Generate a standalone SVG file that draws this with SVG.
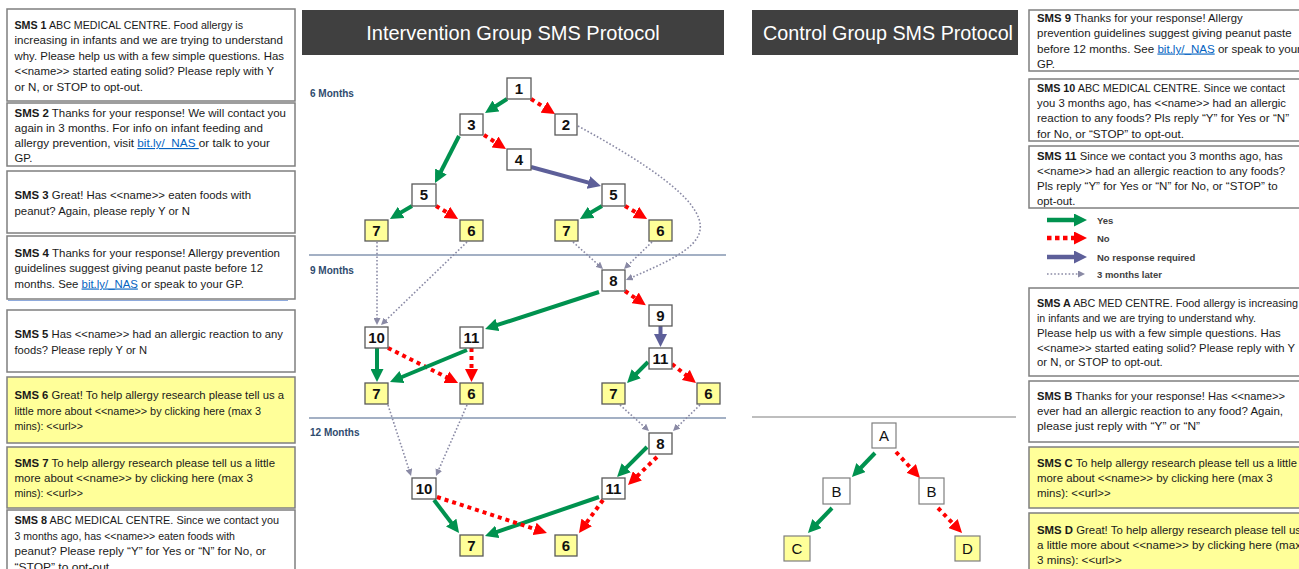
<svg xmlns="http://www.w3.org/2000/svg" width="1299" height="569" viewBox="0 0 1299 569">
  <style>
    .sms { fill: #ffffff; stroke: #7f7f7f; stroke-width: 1.5; }
    .smsy { fill: #ffff99; stroke: #7f7f7f; stroke-width: 1.5; }
    .t { font-family: "Liberation Sans", Arial, sans-serif; font-size: 11.3px; fill: #1a1a1a; }
    .b { font-weight: bold; }
    .lnk { fill: #0563c1; text-decoration: underline; }
    .hdr { fill: #404040; }
    .ht { font-family: "Liberation Sans", Arial, sans-serif; font-size: 20px; fill: #ffffff; text-anchor: middle; }
    .mo { font-family: "Liberation Sans", Arial, sans-serif; font-size: 10px; font-weight: bold; fill: #2f4b6e; }
    .sep { stroke: #8496b0; stroke-width: 1.3; }
    .nd { fill: #ffffff; stroke: #595959; stroke-width: 1.3; }
    .ny { fill: #ffff99; stroke: #595959; stroke-width: 1.3; }
    .nt { font-family: "Liberation Sans", Arial, sans-serif; font-size: 15px; font-weight: bold; fill: #111111; text-anchor: middle; }
    .ct { font-family: "Liberation Sans", Arial, sans-serif; font-size: 15px; fill: #111111; text-anchor: middle; }
    .cn { fill: #ffffff; stroke: #7f7f7f; stroke-width: 1.2; }
    .cy { fill: #ffff99; stroke: #7f7f7f; stroke-width: 1.2; }
    .yes { stroke: #00924f; stroke-width: 4; fill: none; marker-end: url(#hYes); }
    .no { stroke: #ff0000; stroke-width: 4; stroke-dasharray: 4 4; fill: none; marker-end: url(#hNo); }
    .nr { stroke: #5d5f99; stroke-width: 4; fill: none; marker-end: url(#hNr); }
    .lt { stroke: #8a8aa5; stroke-width: 1.6; stroke-dasharray: 1.6 2; fill: none; marker-end: url(#hLt); }
    .lg { font-family: "Liberation Sans", Arial, sans-serif; font-size: 9.5px; font-weight: bold; fill: #404040; }
  </style>
  <defs>
    <marker id="hYes" markerUnits="userSpaceOnUse" markerWidth="13" markerHeight="13" refX="4" refY="6.5" orient="auto">
      <path d="M0,0 L13,6.5 L0,13 z" fill="#00924f"/>
    </marker>
    <marker id="hNo" markerUnits="userSpaceOnUse" markerWidth="13" markerHeight="13" refX="4" refY="6.5" orient="auto">
      <path d="M0,0 L13,6.5 L0,13 z" fill="#ff0000"/>
    </marker>
    <marker id="hNr" markerUnits="userSpaceOnUse" markerWidth="13" markerHeight="13" refX="4" refY="6.5" orient="auto">
      <path d="M0,0 L13,6.5 L0,13 z" fill="#5d5f99"/>
    </marker>
    <marker id="hLt" markerUnits="userSpaceOnUse" markerWidth="7" markerHeight="7" refX="2" refY="3.5" orient="auto">
      <path d="M0,0 L7,3.5 L0,7 z" fill="#8a8aa5"/>
    </marker>
  </defs>

  <rect width="1299" height="569" fill="#ffffff"/>

  <!-- Intervention group messages (left column) -->
  <g id="sms-1">
    <rect class="sms" x="7" y="9" width="288" height="92"/>
    <text class="t" x="14.5" y="28.5" textLength="228.5" lengthAdjust="spacingAndGlyphs"><tspan class="b">SMS 1</tspan> ABC MEDICAL CENTRE. Food allergy is</text>
    <text class="t" x="14.5" y="44" textLength="268.5" lengthAdjust="spacingAndGlyphs">increasing in infants and we are trying to understand</text>
    <text class="t" x="14.5" y="59.5" textLength="269.5" lengthAdjust="spacingAndGlyphs">why. Please help us with a few simple questions. Has</text>
    <text class="t" x="14.5" y="75" textLength="259.5" lengthAdjust="spacingAndGlyphs">&lt;&lt;name&gt;&gt; started eating solid? Please reply with Y</text>
    <text class="t" x="14.5" y="90.5" textLength="128.5" lengthAdjust="spacingAndGlyphs">or N, or STOP to opt-out.</text>
  </g>
  <g id="sms-2">
    <rect class="sms" x="7" y="103" width="288" height="63"/>
    <text class="t" x="14.5" y="117" textLength="271.5" lengthAdjust="spacingAndGlyphs"><tspan class="b">SMS 2</tspan> Thanks for your response! We will contact you</text>
    <text class="t" x="14.5" y="132" textLength="248.5" lengthAdjust="spacingAndGlyphs">again in 3 months. For info on infant feeding and</text>
    <text class="t" x="14.5" y="147" textLength="255.5" lengthAdjust="spacingAndGlyphs">allergy prevention, visit <tspan class="lnk">bit.ly/_NAS </tspan>or talk to your</text>
    <text class="t" x="14.5" y="161.5">GP.</text>
  </g>
  <g id="sms-3">
    <rect class="sms" x="7" y="171" width="288" height="62"/>
    <text class="t" x="14.5" y="198.5" textLength="236.5" lengthAdjust="spacingAndGlyphs"><tspan class="b">SMS 3</tspan> Great! Has &lt;&lt;name&gt;&gt; eaten foods with</text>
    <text class="t" x="14.5" y="214.5" textLength="175.5" lengthAdjust="spacingAndGlyphs">peanut? Again, please reply Y or N</text>
  </g>
  <g id="sms-4">
    <rect class="sms" x="7" y="236" width="288" height="63"/>
    <line x1="8" y1="300.5" x2="288" y2="300.5" stroke="#8faadc" stroke-width="1.2"/>
    <text class="t" x="14.5" y="257" textLength="265.5" lengthAdjust="spacingAndGlyphs"><tspan class="b">SMS 4</tspan> Thanks for your response! Allergy prevention</text>
    <text class="t" x="14.5" y="272" textLength="248.5" lengthAdjust="spacingAndGlyphs">guidelines suggest giving peanut paste before 12</text>
    <text class="t" x="14.5" y="287.5" textLength="229.5" lengthAdjust="spacingAndGlyphs">months. See <tspan class="lnk">bit.ly/_NAS</tspan> or speak to your GP.</text>
  </g>
  <g id="sms-5">
    <rect class="sms" x="7" y="310" width="288" height="62"/>
    <text class="t" x="14.5" y="337.5" textLength="268.5" lengthAdjust="spacingAndGlyphs"><tspan class="b">SMS 5</tspan> Has &lt;&lt;name&gt;&gt; had an allergic reaction to any</text>
    <text class="t" x="14.5" y="353.5" textLength="132.5" lengthAdjust="spacingAndGlyphs">foods? Please reply Y or N</text>
  </g>
  <g id="sms-6">
    <rect class="smsy" x="7" y="377" width="288" height="66"/>
    <text class="t" x="14.5" y="399" textLength="269.5" lengthAdjust="spacingAndGlyphs"><tspan class="b">SMS 6</tspan> Great! To help allergy research please tell us a</text>
    <text class="t" x="14.5" y="415" textLength="246.5" lengthAdjust="spacingAndGlyphs">little more about &lt;&lt;name&gt;&gt; by clicking here (max 3</text>
    <text class="t" x="14.5" y="430" textLength="68.5" lengthAdjust="spacingAndGlyphs">mins): &lt;&lt;url&gt;&gt;</text>
  </g>
  <g id="sms-7">
    <rect class="smsy" x="7" y="447" width="288" height="61"/>
    <text class="t" x="14.5" y="467" textLength="260.5" lengthAdjust="spacingAndGlyphs"><tspan class="b">SMS 7</tspan> To help allergy research please tell us a little</text>
    <text class="t" x="14.5" y="482" textLength="238.5" lengthAdjust="spacingAndGlyphs">more about &lt;&lt;name&gt;&gt; by clicking here (max 3</text>
    <text class="t" x="14.5" y="497" textLength="68.5" lengthAdjust="spacingAndGlyphs">mins): &lt;&lt;url&gt;&gt;</text>
  </g>
  <g id="sms-8">
    <rect class="sms" x="7" y="510" width="288" height="70"/>
    <text class="t" x="14.5" y="524" textLength="264.5" lengthAdjust="spacingAndGlyphs"><tspan class="b">SMS 8</tspan> ABC MEDICAL CENTRE. Since we contact you</text>
    <text class="t" x="14.5" y="539.5" textLength="220.5" lengthAdjust="spacingAndGlyphs">3 months ago, has &lt;&lt;name&gt;&gt; eaten foods with</text>
    <text class="t" x="14.5" y="555" textLength="251.5" lengthAdjust="spacingAndGlyphs">peanut? Please reply “Y” for Yes or “N” for No, or</text>
    <text class="t" x="14.5" y="570.5" textLength="98" lengthAdjust="spacingAndGlyphs">“STOP” to opt-out.</text>
  </g>

  <!-- Headers -->
  <g id="hdr-intervention">
    <rect class="hdr" x="302" y="10" width="422" height="45"/>
    <text class="ht" x="513" y="40">Intervention Group SMS Protocol</text>
  </g>
  <g id="hdr-control">
    <rect class="hdr" x="752" y="10" width="266" height="45"/>
    <text class="ht" x="888" y="40" textLength="250" lengthAdjust="spacingAndGlyphs">Control Group SMS Protocol</text>
  </g>

  <!-- Time bands -->
  <g id="bands">
    <line class="sep" x1="309" y1="255" x2="726" y2="255"/>
    <line class="sep" x1="309" y1="418" x2="726" y2="418"/>
    <line x1="752" y1="417" x2="1016" y2="417" stroke="#7f7f7f" stroke-width="1.2"/>
    <text class="mo" x="310" y="96.5">6 Months</text>
    <text class="mo" x="310" y="273.5">9 Months</text>
    <text class="mo" x="310" y="435.5">12 Months</text>
  </g>

  <!-- Connectors -->
  <g id="connectors">
    <!-- 6 months -->
    <line class="yes" x1="507" y1="99" x2="492.6" y2="108.2"/>
    <line class="no" x1="531" y1="99" x2="547.4" y2="109.2"/>
    <line class="yes" x1="459" y1="136" x2="439.1" y2="175"/>
    <line class="no" x1="484" y1="135" x2="498.4" y2="144.2"/>
    <line class="nr" x1="531" y1="167" x2="592.3" y2="183.6"/>
    <line class="yes" x1="412" y1="206" x2="397.7" y2="214.4"/>
    <line class="no" x1="436" y1="206" x2="450.3" y2="214.4"/>
    <line class="yes" x1="602" y1="206" x2="587.7" y2="214.4"/>
    <line class="no" x1="625" y1="206" x2="639.3" y2="214.4"/>
    <!-- 3 months later, into 9 months -->
    <path class="lt" d="M578,126 C640,160 705,200 700,230 C697,250 662,264 630.5,278"/>
    <line class="lt" x1="377" y1="242" x2="377" y2="320"/>
    <line class="lt" x1="467" y1="242" x2="384.6" y2="321.5"/>
    <line class="lt" x1="573" y1="242" x2="599.3" y2="265.7"/>
    <line class="lt" x1="652" y1="242" x2="627.6" y2="265.5"/>
    <!-- 9 months -->
    <line class="yes" x1="599" y1="292" x2="493.6" y2="326.2"/>
    <line class="no" x1="625" y1="291" x2="638.4" y2="300.2"/>
    <line class="nr" x1="660.5" y1="326" x2="660.5" y2="338"/>
    <line class="yes" x1="377" y1="348" x2="377" y2="373"/>
    <line class="no" x1="388" y1="348" x2="450" y2="379"/>
    <line class="yes" x1="467" y1="350" x2="398.3" y2="378.5"/>
    <line class="no" x1="471.5" y1="348" x2="471.5" y2="373"/>
    <line class="yes" x1="648" y1="362" x2="633.4" y2="376.6"/>
    <line class="no" x1="672" y1="364" x2="688.9" y2="377.4"/>
    <!-- 3 months later, into 12 months -->
    <line class="lt" x1="388" y1="405" x2="409.5" y2="471.2"/>
    <line class="lt" x1="467" y1="405" x2="438" y2="471.4"/>
    <line class="lt" x1="620" y1="405" x2="645.3" y2="427.7"/>
    <line class="lt" x1="700" y1="405" x2="676.6" y2="427.5"/>
    <!-- 12 months -->
    <line class="yes" x1="647" y1="447" x2="623.4" y2="470.6"/>
    <line class="no" x1="657" y1="457" x2="634.5" y2="478.7"/>
    <line class="yes" x1="599" y1="497" x2="493.5" y2="533.1"/>
    <line class="no" x1="603" y1="500" x2="584.3" y2="525.7"/>
    <line class="yes" x1="434" y1="500" x2="453.6" y2="525.8"/>
    <line class="no" x1="437" y1="497" x2="538.4" y2="530.2"/>
    <!-- control group -->
    <line class="yes" x1="875" y1="453" x2="858.2" y2="470.5"/>
    <line class="no" x1="896" y1="452" x2="913.9" y2="471.4"/>
    <line class="yes" x1="832" y1="508" x2="814.2" y2="526.5"/>
    <line class="no" x1="938" y1="508" x2="955.8" y2="526.5"/>
  </g>

  <!-- Intervention nodes -->
  <g id="n1"><rect class="nd" x="507" y="78" width="24" height="21"/><text class="nt" x="519" y="93.8">1</text></g>
  <g id="n3"><rect class="nd" x="460" y="114" width="23" height="21"/><text class="nt" x="471.5" y="129.8">3</text></g>
  <g id="n2"><rect class="nd" x="555" y="114" width="22" height="21"/><text class="nt" x="566" y="129.8">2</text></g>
  <g id="n4"><rect class="nd" x="507" y="149" width="24" height="21"/><text class="nt" x="519" y="164.8">4</text></g>
  <g id="n5a"><rect class="nd" x="412" y="184" width="24" height="22"/><text class="nt" x="424" y="200.3">5</text></g>
  <g id="n5b"><rect class="nd" x="602" y="184" width="23" height="22"/><text class="nt" x="613.5" y="200.3">5</text></g>
  <g id="n7a"><rect class="ny" x="365" y="220" width="23" height="21"/><text class="nt" x="376.5" y="235.8">7</text></g>
  <g id="n6a"><rect class="ny" x="460" y="220" width="23" height="21"/><text class="nt" x="471.5" y="235.8">6</text></g>
  <g id="n7b"><rect class="ny" x="555" y="220" width="23" height="21"/><text class="nt" x="566.5" y="235.8">7</text></g>
  <g id="n6b"><rect class="ny" x="649" y="220" width="23" height="21"/><text class="nt" x="660.5" y="235.8">6</text></g>

  <g id="n8a"><rect class="nd" x="602" y="270" width="23" height="21"/><text class="nt" x="613.5" y="285.8">8</text></g>
  <g id="n9"><rect class="nd" x="649" y="305" width="23" height="21"/><text class="nt" x="660.5" y="320.8">9</text></g>
  <g id="n11b"><rect class="nd" x="649" y="348" width="23" height="21"/><text class="nt" x="660.5" y="363.8">11</text></g>
  <g id="n10a"><rect class="nd" x="365" y="327" width="23" height="21"/><text class="nt" x="376.5" y="342.8">10</text></g>
  <g id="n11a"><rect class="nd" x="460" y="327" width="23" height="21"/><text class="nt" x="471.5" y="342.8">11</text></g>
  <g id="n7c"><rect class="ny" x="365" y="383" width="23" height="21"/><text class="nt" x="376.5" y="398.8">7</text></g>
  <g id="n6c"><rect class="ny" x="460" y="383" width="23" height="21"/><text class="nt" x="471.5" y="398.8">6</text></g>
  <g id="n7d"><rect class="ny" x="602" y="383" width="23" height="21"/><text class="nt" x="613.5" y="398.8">7</text></g>
  <g id="n6d"><rect class="ny" x="697" y="383" width="23" height="21"/><text class="nt" x="708.5" y="398.8">6</text></g>

  <g id="n8b"><rect class="nd" x="649" y="433" width="23" height="21"/><text class="nt" x="660.5" y="448.8">8</text></g>
  <g id="n11c"><rect class="nd" x="602" y="478" width="23" height="21"/><text class="nt" x="613.5" y="493.8">11</text></g>
  <g id="n10b"><rect class="nd" x="412" y="478" width="24" height="21"/><text class="nt" x="424" y="493.8">10</text></g>
  <g id="n7e"><rect class="ny" x="460" y="535" width="23" height="21"/><text class="nt" x="471.5" y="550.8">7</text></g>
  <g id="n6e"><rect class="ny" x="555" y="535" width="22" height="21"/><text class="nt" x="566" y="550.8">6</text></g>

  <!-- Control nodes -->
  <g id="cA"><rect class="cn" x="872" y="423" width="24" height="25"/><text class="ct" x="884" y="440.8">A</text></g>
  <g id="cB1"><rect class="cn" x="823" y="478" width="27" height="26"/><text class="ct" x="836.5" y="496.5">B</text></g>
  <g id="cB2"><rect class="cn" x="919" y="478" width="25" height="26"/><text class="ct" x="931.5" y="496.5">B</text></g>
  <g id="cC"><rect class="cy" x="784" y="536" width="26" height="25"/><text class="ct" x="797" y="554">C</text></g>
  <g id="cD"><rect class="cy" x="955" y="536" width="25" height="25"/><text class="ct" x="967.5" y="554">D</text></g>

  <!-- Right column messages -->
  <g id="sms-9">
    <rect class="sms" x="1029" y="10" width="280" height="61"/>
    <text class="t" x="1037" y="22" textLength="205.7" lengthAdjust="spacingAndGlyphs"><tspan class="b">SMS 9</tspan> Thanks for your response! Allergy</text>
    <text class="t" x="1037" y="37" textLength="254.7" lengthAdjust="spacingAndGlyphs">prevention guidelines suggest giving peanut paste</text>
    <text class="t" x="1037" y="52.5" textLength="264" lengthAdjust="spacingAndGlyphs">before 12 months. See <tspan class="lnk">bit.ly/_NAS</tspan> or speak to your</text>
    <text class="t" x="1037" y="67.5">GP.</text>
  </g>
  <g id="sms-10">
    <rect class="sms" x="1029" y="79" width="280" height="62"/>
    <text class="t" x="1037" y="92" textLength="248" lengthAdjust="spacingAndGlyphs"><tspan class="b">SMS 10</tspan> ABC MEDICAL CENTRE. Since we contact</text>
    <text class="t" x="1037" y="107" textLength="249" lengthAdjust="spacingAndGlyphs">you 3 months ago, has &lt;&lt;name&gt;&gt; had an allergic</text>
    <text class="t" x="1037" y="122" textLength="252" lengthAdjust="spacingAndGlyphs">reaction to any foods? Pls reply “Y” for Yes or “N”</text>
    <text class="t" x="1037" y="137.5" textLength="147" lengthAdjust="spacingAndGlyphs">for No, or “STOP” to opt-out.</text>
  </g>
  <g id="sms-11">
    <rect class="sms" x="1029" y="146" width="280" height="62"/>
    <text class="t" x="1037" y="159.5" textLength="245.7" lengthAdjust="spacingAndGlyphs"><tspan class="b">SMS 11</tspan> Since we contact you 3 months ago, has</text>
    <text class="t" x="1037" y="174.5" textLength="248" lengthAdjust="spacingAndGlyphs">&lt;&lt;name&gt;&gt; had an allergic reaction to any foods?</text>
    <text class="t" x="1037" y="190" textLength="240.7" lengthAdjust="spacingAndGlyphs">Pls reply “Y” for Yes or “N” for No, or “STOP” to</text>
    <text class="t" x="1037" y="205">opt-out.</text>
  </g>

  <!-- Legend -->
  <g id="legend">
    <line x1="1047" y1="220" x2="1078" y2="220" stroke="#00924f" stroke-width="4.5" marker-end="url(#hYes)"/>
    <line x1="1047" y1="238" x2="1078" y2="238" stroke="#ff0000" stroke-width="4.5" stroke-dasharray="4.5 3.5" marker-end="url(#hNo)"/>
    <line x1="1047" y1="257" x2="1078" y2="257" stroke="#5d5f99" stroke-width="4.5" marker-end="url(#hNr)"/>
    <line x1="1047" y1="274" x2="1080" y2="274" stroke="#8a8aa5" stroke-width="1.6" stroke-dasharray="1.6 2" marker-end="url(#hLt)"/>
    <text class="lg" x="1097" y="223.5">Yes</text>
    <text class="lg" x="1097" y="241.5">No</text>
    <text class="lg" x="1097" y="260.5">No response required</text>
    <text class="lg" x="1097" y="277.5">3 months later</text>
  </g>

  <g id="sms-a">
    <rect class="sms" x="1029" y="288" width="280" height="88"/>
    <text class="t" x="1037" y="307" textLength="261" lengthAdjust="spacingAndGlyphs"><tspan class="b">SMS A</tspan> ABC MED CENTRE. Food allergy is increasing</text>
    <text class="t" x="1037" y="322" textLength="219" lengthAdjust="spacingAndGlyphs">in infants and we are trying to understand why.</text>
    <text class="t" x="1037" y="337" textLength="243.7" lengthAdjust="spacingAndGlyphs">Please help us with a few simple questions. Has</text>
    <text class="t" x="1037" y="351.5" textLength="258" lengthAdjust="spacingAndGlyphs">&lt;&lt;name&gt;&gt; started eating solid? Please reply with Y</text>
    <text class="t" x="1037" y="366" textLength="125.7" lengthAdjust="spacingAndGlyphs">or N, or STOP to opt-out.</text>
  </g>
  <g id="sms-b">
    <rect class="sms" x="1029" y="381" width="280" height="61"/>
    <text class="t" x="1037" y="400" textLength="248" lengthAdjust="spacingAndGlyphs"><tspan class="b">SMS B</tspan> Thanks for your response! Has &lt;&lt;name&gt;&gt;</text>
    <text class="t" x="1037" y="415" textLength="246" lengthAdjust="spacingAndGlyphs">ever had an allergic reaction to any food? Again,</text>
    <text class="t" x="1037" y="430" textLength="163" lengthAdjust="spacingAndGlyphs">please just reply with “Y” or “N”</text>
  </g>
  <g id="sms-c">
    <rect class="smsy" x="1029" y="447" width="280" height="61"/>
    <text class="t" x="1037" y="467" textLength="260" lengthAdjust="spacingAndGlyphs"><tspan class="b">SMS C</tspan> To help allergy research please tell us a little</text>
    <text class="t" x="1037" y="482" textLength="235.7" lengthAdjust="spacingAndGlyphs">more about &lt;&lt;name&gt;&gt; by clicking here (max 3</text>
    <text class="t" x="1037" y="497" textLength="73.7" lengthAdjust="spacingAndGlyphs">mins): &lt;&lt;url&gt;&gt;</text>
  </g>
  <g id="sms-d">
    <rect class="smsy" x="1029" y="513" width="280" height="70"/>
    <text class="t" x="1037" y="533.5" textLength="264" lengthAdjust="spacingAndGlyphs"><tspan class="b">SMS D</tspan> Great! To help allergy research please tell us</text>
    <text class="t" x="1037" y="548.5" textLength="264" lengthAdjust="spacingAndGlyphs">a little more about &lt;&lt;name&gt;&gt; by clicking here (max</text>
    <text class="t" x="1037" y="563.5" textLength="84.7" lengthAdjust="spacingAndGlyphs">3 mins): &lt;&lt;url&gt;&gt;</text>
  </g>
</svg>
